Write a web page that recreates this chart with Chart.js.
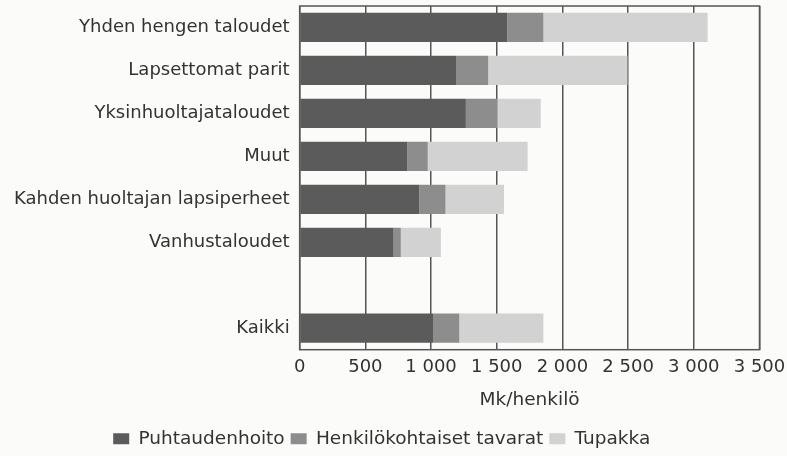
<!DOCTYPE html>
<html>
<head>
<meta charset="utf-8">
<script src="https://cdn.jsdelivr.net/npm/chart.js@4"></script>
<style>
  html, body { margin: 0; padding: 0; background: #fbfbfa; }
  #wrap { width: 787px; height: 456px; }
</style>
</head>
<body>
<div id="wrap"><canvas id="chart"></canvas></div>
<script>
const categories = ['Yhden hengen taloudet', 'Lapsettomat parit', 'Yksinhuoltajataloudet', 'Muut',
    'Kahden huoltajan lapsiperheet', 'Vanhustaloudet', '', 'Kaikki'];
const puhtaudenhoito = [1580, 1190, 1265, 820, 910, 715, null, 1015];
const henkilokohtaiset = [275, 245, 240, 155, 200, 55, null, 200];
const tupakka = [1250, 1060, 330, 760, 445, 305, null, 640];
const xticks = [0, 500, 1000, 1500, 2000, 2500, 3000, 3500];

const ink = '#333333';
const font = 'DejaVu Sans, Verdana, sans-serif';

// frame round the plot area
const frame = {
    id: 'frame',
    afterDatasetsDraw(chart) {
        const a = chart.chartArea;
        const ctx = chart.ctx;
        ctx.save();
        ctx.strokeStyle = '#555555';
        ctx.lineWidth = 1.5;
        ctx.strokeRect(a.left, a.top, a.right - a.left, a.bottom - a.top);
        ctx.restore();
    }
};

const ctx = document.getElementById('chart').getContext('2d');
const config = {
    type: 'bar',
    data: {
        labels: categories,
        datasets: [{
            label: 'Puhtaudenhoito',
            data: puhtaudenhoito,
            backgroundColor: '#5b5b5b'
        },{
            label: 'Henkilökohtaiset tavarat',
            data: henkilokohtaiset,
            backgroundColor: '#8d8d8d'
        },{
            label: 'Tupakka',
            data: tupakka,
            backgroundColor: '#d2d2d2'
        }]
    },
    options: {
        indexAxis: 'y',
        responsive: true,
        maintainAspectRatio: false,
        animation: false,
        layout: { padding: { top: 6, right: 27.5, left: 4, bottom: -2 } },
        datasets: {
            bar: { barPercentage: 0.68, categoryPercentage: 1 }
        },
        scales: {
            x: {
                stacked: true,
                min: 0,
                max: 3500,
                afterBuildTicks: axis => { axis.ticks = xticks.map(v => ({ value: v })); },
                afterFit: s => { s.paddingRight = 0; },
                grid: { color: '#555555', lineWidth: 1.5, drawTicks: false },
                border: { display: false },
                ticks: {
                    color: ink,
                    padding: 7,
                    font: { family: font, size: 18 },
                    callback: v => v >= 1000 ? Math.floor(v / 1000) + ' ' + String(v % 1000).padStart(3, '0') : String(v)
                },
                title: {
                    display: true,
                    text: 'Mk/henkilö',
                    color: ink,
                    font: { family: font, size: 18.5 },
                    padding: { top: 4, bottom: 12 }
                }
            },
            y: {
                stacked: true,
                afterFit: s => { s.paddingTop = 0; s.paddingBottom = 0; },
                grid: { display: false, drawTicks: false },
                border: { display: false },
                ticks: {
                    color: ink,
                    padding: 10,
                    font: { family: font, size: 18 }
                }
            }
        },
        plugins: {
            legend: {
                position: 'bottom',
                labels: {
                    color: ink,
                    boxWidth: 16,
                    boxHeight: 11,
                    padding: 6,
                    font: { family: font, size: 18.5 }
                }
            },
            tooltip: { enabled: false }
        }
    },
    plugins: [frame]
};
const myChart = new Chart(ctx, config);
</script>
</body>
</html>
